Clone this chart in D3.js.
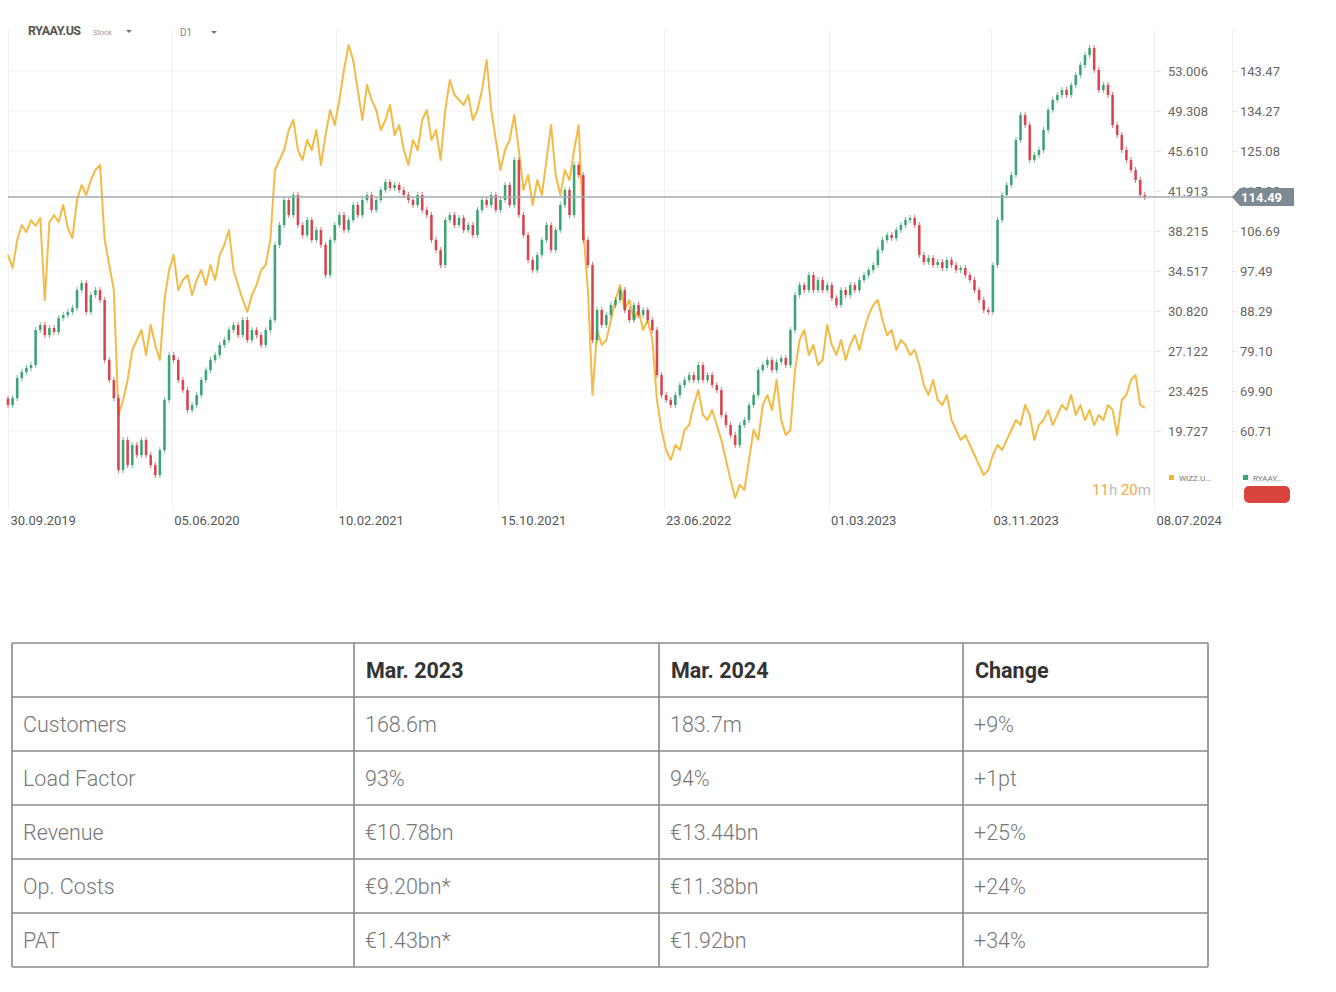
<!DOCTYPE html>
<html><head><meta charset="utf-8">
<script src="https://cdn.jsdelivr.net/npm/d3@7"></script>
<style>
body{margin:0;background:#fff;font-family:Roboto,"Open Sans",sans-serif;}
svg{display:block;}
</style></head>
<body>
<svg id="chart" width="1336" height="992"></svg>
<script>
// ---------- DATA ----------
const startDate = "2019-09-30"; // first weekly sample
const xTickDates = ["2019-09-30","2020-06-05","2021-02-10","2021-10-15","2022-06-23","2023-03-01","2023-11-03","2024-07-08"];
const xTickLabels = ["30.09.2019","05.06.2020","10.02.2021","15.10.2021","23.06.2022","01.03.2023","03.11.2023","08.07.2024"];
const leftTicks = [53.006,49.308,45.610,41.913,38.215,34.517,30.820,27.122,23.425,19.727];
const leftTickLabels = ["53.006","49.308","45.610","41.913","38.215","34.517","30.820","27.122","23.425","19.727"];
const rightTicks = [143.47,134.27,125.08,115.88,106.69,97.49,88.29,79.10,69.90,60.71];
const rightTickLabels = ["143.47","134.27","125.08","115.88","106.69","97.49","88.29","79.10","69.90","60.71"];
const lastPrice = 114.49;

// WIZZ.UK weekly closes (left axis)
const wizz = [36.00,34.80,37.38,38.77,38.12,39.23,38.68,39.42,31.84,39.05,
39.69,39.05,40.62,38.49,37.57,41.08,42.47,41.54,42.93,43.85,
44.32,37.38,35.07,32.76,21.21,22.59,24.44,27.21,28.14,29.06,
26.75,29.53,27.68,26.29,31.84,34.61,36.00,32.76,33.69,34.15,
32.30,33.69,34.61,33.22,35.07,33.69,36.00,36.92,38.31,34.61,
33.22,31.84,30.73,32.30,33.22,34.61,35.07,37.38,43.85,44.78,
45.70,47.55,48.48,45.70,44.78,46.63,45.70,47.55,44.32,47.09,
49.40,48.01,50.33,53.10,55.41,54.02,51.25,48.48,51.71,50.33,
49.40,47.55,48.48,49.86,47.09,48.01,45.70,44.32,46.63,45.70,
48.48,49.40,46.63,47.55,44.78,49.40,52.17,50.79,50.33,49.86,
50.79,48.48,49.40,51.25,54.02,49.40,46.63,43.85,45.70,46.63,
48.94,45.70,42.01,43.39,40.62,42.93,41.54,44.78,48.01,43.39,
41.54,43.85,42.93,45.70,48.01,38.31,32.76,23.05,29.06,27.68,
28.14,29.99,31.84,33.22,30.91,31.84,29.99,30.91,29.06,29.99,
28.14,22.59,19.82,17.97,17.05,18.43,17.97,19.82,20.28,22.13,
23.52,21.21,20.74,21.67,20.28,18.90,17.05,15.20,13.53,14.74,
14.27,17.05,19.82,18.90,22.13,23.05,21.67,24.44,20.74,19.36,
19.82,25.37,28.14,29.06,26.75,27.68,25.83,26.29,29.53,27.68,
26.75,28.14,26.29,27.68,28.60,27.21,29.06,30.45,31.37,31.84,
29.99,28.60,29.06,27.21,28.14,27.68,26.75,27.21,25.83,23.98,
23.05,24.44,22.59,22.13,23.05,20.74,19.82,18.90,19.36,18.43,
17.51,16.58,15.66,16.12,17.51,18.43,17.97,18.90,19.82,20.74,
20.28,22.13,21.21,18.90,20.28,20.74,21.67,20.28,21.21,22.13,
21.67,23.05,21.21,22.13,20.74,21.67,20.28,21.21,20.74,22.13,
21.67,19.36,22.59,23.05,24.44,24.90,22.13,21.85];

// RYAAY.US weekly closes (right axis, candles)
const ryaay = [66.67,68.28,72.88,74.26,75.18,75.87,83.92,85.07,82.77,84.38,
83.46,86.68,87.37,88.06,88.98,93.11,94.72,88.06,91.96,93.11,
90.81,77.02,72.42,68.28,51.72,58.62,52.87,57.47,55.17,58.62,
55.17,52.87,50.57,56.32,67.82,78.17,77.02,72.42,70.12,65.52,
66.67,68.97,72.42,74.72,77.02,78.17,80.47,81.62,83.92,85.07,
82.77,86.22,81.62,83.92,82.77,80.47,83.92,86.22,103.46,108.06,
113.81,110.36,114.96,108.06,105.76,109.21,104.61,106.91,103.46,96.56,
104.61,108.06,110.36,106.91,109.21,112.66,110.36,113.81,114.96,111.51,
113.81,116.11,117.95,116.57,117.26,116.11,114.96,113.81,112.66,114.96,
111.51,110.36,104.61,102.31,98.86,109.21,110.36,108.06,109.67,106.91,
108.06,105.76,111.51,113.81,112.66,114.96,111.51,113.81,117.26,112.66,
123.01,110.36,105.76,100.01,97.71,101.16,104.61,108.06,102.31,106.91,
112.66,116.11,110.36,121.86,119.56,104.61,98.86,81.62,88.52,85.07,
87.37,89.67,90.81,93.11,88.52,86.22,89.67,87.37,88.52,86.22,
83.92,73.57,68.97,67.82,66.67,68.97,71.27,72.42,73.57,72.42,
75.87,72.42,73.57,71.27,70.12,64.37,62.07,59.77,57.47,62.07,
63.22,66.67,68.97,74.72,75.87,77.02,74.72,76.56,77.48,75.87,
83.92,91.96,94.26,93.11,96.56,93.11,95.41,93.11,94.26,91.27,
89.67,93.11,91.96,94.26,93.11,95.41,96.56,97.71,98.86,102.31,
104.61,105.76,105.07,106.91,108.06,109.21,109.67,108.06,101.16,99.55,
100.47,98.86,99.55,98.17,100.01,98.86,97.71,98.17,96.56,95.41,
93.11,90.81,88.52,88.06,98.86,109.21,114.96,117.26,119.56,127.61,
133.36,131.06,123.01,124.16,125.31,129.91,134.51,136.80,137.95,139.10,
137.95,140.25,142.55,144.85,147.15,148.76,143.70,139.10,140.25,137.95,
131.06,128.76,125.31,123.01,120.71,118.41,114.96,114.49];

// Table
const tableHeader = ["", "Mar. 2023", "Mar. 2024", "Change"];
const rowLabels = ["Customers","Load Factor","Revenue","Op. Costs","PAT"];
const colMar2023 = ["168.6m","93%","€10.78bn","€9.20bn*","€1.43bn*"];
const colMar2024 = ["183.7m","94%","€13.44bn","€11.38bn","€1.92bn"];
const colChange = ["+9%","+1pt","+25%","+24%","+34%"];

// ---------- CHART ----------
const svg = d3.select("#chart");
const parse = d3.timeParse("%Y-%m-%d");
const t0 = parse(startDate);
const weekDate = i => d3.timeDay.offset(t0, 7*i);

const x = d3.scaleTime().domain([parse("2019-09-30"), parse("2024-07-08")]).range([8, 1154]);
const yL = d3.scaleLinear().domain([19.727, 53.006]).range([431, 71]);
const yR = d3.scaleLinear().domain([60.71, 143.47]).range([431, 71]);

const plotRight = 1155, plotTop = 30, plotBottom = 510;

// horizontal grid
svg.append("g").selectAll("line").data(leftTicks).join("line")
  .attr("x1", 8).attr("x2", plotRight)
  .attr("y1", d => yL(d)).attr("y2", d => yL(d))
  .attr("stroke", "#f2f2f2").attr("stroke-width", 1);

// vertical grid
svg.append("g").selectAll("line").data(xTickDates).join("line")
  .attr("x1", d => Math.round(x(parse(d))) + 0.5).attr("x2", d => Math.round(x(parse(d))) + 0.5)
  .attr("y1", plotTop).attr("y2", plotBottom)
  .attr("stroke", "#f0f0f0").attr("stroke-width", 1);
svg.append("line").attr("x1", 1232.5).attr("x2", 1232.5).attr("y1", plotTop).attr("y2", plotBottom)
  .attr("stroke", "#f0f0f0");

// WIZZ line
const line = d3.line().x((d, i) => x(weekDate(i))).y(d => yL(d)).curve(d3.curveLinear);
svg.append("path").datum(wizz).attr("d", line)
  .attr("fill", "none").attr("stroke", "#f1b535").attr("stroke-width", 2)
  .attr("stroke-linejoin", "round").attr("opacity", 0.92);

// RYAAY candles
const candles = ryaay.map((c, i) => ({i, o: i === 0 ? c + 1.5 : ryaay[i - 1], c}));
const cg = svg.append("g");
cg.selectAll("line").data(candles).join("line")
  .attr("x1", d => x(weekDate(d.i))).attr("x2", d => x(weekDate(d.i)))
  .attr("y1", d => Math.min(yR(d.o), yR(d.c)) - 3)
  .attr("y2", d => Math.max(yR(d.o), yR(d.c)) + 3)
  .attr("stroke", d => d.c >= d.o ? "#3aa873" : "#d8404a").attr("stroke-width", 1)
  .attr("opacity", 0.75);
cg.selectAll("rect").data(candles).join("rect")
  .attr("x", d => x(weekDate(d.i)) - 1.3).attr("width", 2.6)
  .attr("y", d => Math.min(yR(d.o), yR(d.c)))
  .attr("height", d => Math.max(1.5, Math.abs(yR(d.o) - yR(d.c))))
  .attr("fill", d => d.c >= d.o ? "#2f9e69" : "#d63a45").attr("opacity", 0.9);

// last price line
const yLast = yR(lastPrice);
svg.append("line").attr("x1", 8).attr("x2", 1236).attr("y1", yLast).attr("y2", yLast)
  .attr("stroke", "#a3abb2").attr("stroke-width", 1.4);

// axes
const axL = d3.axisRight(yL).tickValues(leftTicks).tickSize(6).tickPadding(7)
  .tickFormat((d, i) => leftTickLabels[i]);
const gL = svg.append("g").attr("transform", `translate(${plotRight},0)`).call(axL);
const axR = d3.axisRight(yR).tickValues(rightTicks).tickSize(5).tickPadding(3)
  .tickFormat((d, i) => rightTickLabels[i]);
const gR = svg.append("g").attr("transform", "translate(1232,0)").call(axR);
[gL, gR].forEach(g => {
  g.select(".domain").remove();
  g.selectAll(".tick line").attr("stroke", "#e6e6e6");
  g.selectAll(".tick text").attr("fill", "#666").style("font-size", "13px")
    .style("font-family", "Roboto, sans-serif");
});

// last price tag
const tagG = svg.append("g").attr("transform", `translate(0,${yLast})`);
tagG.append("path").attr("d", "M1232,0 L1240,-9 L1294,-9 L1294,9 L1240,9 Z").attr("fill", "#7d8993");
tagG.append("text").attr("x", 1241).attr("y", 5).text(lastPrice.toFixed(2))
  .attr("fill", "#fff").style("font-size", "13px").style("font-weight", "700");

// x axis
const axX = d3.axisBottom(x).tickValues(xTickDates.map(parse)).tickSize(0).tickPadding(6)
  .tickFormat((d, i) => xTickLabels[i]);
const gX = svg.append("g").attr("transform", `translate(0,${plotBottom})`).call(axX);
gX.select(".domain").remove();
gX.selectAll(".tick text").attr("text-anchor", "start").attr("dx", 2)
  .attr("fill", "#555").style("font-size", "13px").style("font-family", "Roboto, sans-serif");

// header
svg.append("text").attr("x", 28).attr("y", 35).text("RYAAY.US")
  .attr("fill", "#555").style("font-size", "12.5px").style("font-weight", "700").style("letter-spacing", "-0.5px");
svg.append("text").attr("x", 93).attr("y", 35).text("Stock").attr("fill", "#999").style("font-size", "7.5px");
svg.append("path").attr("d", "M126,30 L132,30 L129,33 Z").attr("fill", "#777");
svg.append("text").attr("x", 180).attr("y", 36).text("D1").attr("fill", "#888").style("font-size", "10px");
svg.append("path").attr("d", "M211,31 L217,31 L214,34 Z").attr("fill", "#777");

// timer
const tm = svg.append("text").attr("x", 1092).attr("y", 495).style("font-size", "15px");
tm.append("tspan").text("11").attr("fill", "#f3a93b");
tm.append("tspan").text("h ").attr("fill", "#bbb");
tm.append("tspan").text("20").attr("fill", "#f3a93b");
tm.append("tspan").text("m").attr("fill", "#bbb");

// legend
svg.append("rect").attr("x", 1169).attr("y", 475).attr("width", 5).attr("height", 5).attr("fill", "#f1b535");
svg.append("text").attr("x", 1179).attr("y", 481).text("WIZZ.U...").attr("fill", "#777").style("font-size", "8px");
svg.append("rect").attr("x", 1243).attr("y", 475).attr("width", 5).attr("height", 5).attr("fill", "#3aa873");
svg.append("text").attr("x", 1253).attr("y", 481).text("RYAAY...").attr("fill", "#777").style("font-size", "8px");
svg.append("rect").attr("x", 1244).attr("y", 486).attr("width", 46).attr("height", 17).attr("rx", 5).attr("fill", "#d9443c");

// ---------- TABLE ----------
const colX = [12, 354, 659, 963, 1208];
const rowY = [643, 697, 751, 805, 859, 913, 967];
const tg = svg.append("g");
const rows = rowLabels.map((lab, i) => [lab, colMar2023[i], colMar2024[i], colChange[i]]);
tg.selectAll("text.h").data(tableHeader).join("text").attr("class", "h")
  .attr("x", (d, i) => colX[i] + 12).attr("y", (rowY[0] + rowY[1]) / 2 + 7.5)
  .text(d => d).attr("fill", "#333").style("font-size", "21.5px").style("font-weight", "700");
rows.forEach((r, ri) => {
  tg.selectAll(null).data(r).join("text")
    .attr("x", (d, i) => colX[i] + 11).attr("y", (rowY[ri + 1] + rowY[ri + 2]) / 2 + 7.5)
    .text(d => d).attr("fill", "#777").style("font-size", "21.5px").style("font-weight", "300");
});
tg.selectAll("line.r").data(rowY).join("line").attr("class", "r")
  .attr("x1", colX[0]).attr("x2", colX[4]).attr("y1", d => d).attr("y2", d => d)
  .attr("stroke", "#8a8a8a").attr("stroke-width", 1.6);
tg.selectAll("line.c").data(colX).join("line").attr("class", "c")
  .attr("x1", d => d).attr("x2", d => d).attr("y1", rowY[0]).attr("y2", rowY[6])
  .attr("stroke", "#8a8a8a").attr("stroke-width", 1.6);
</script>
</body></html>
